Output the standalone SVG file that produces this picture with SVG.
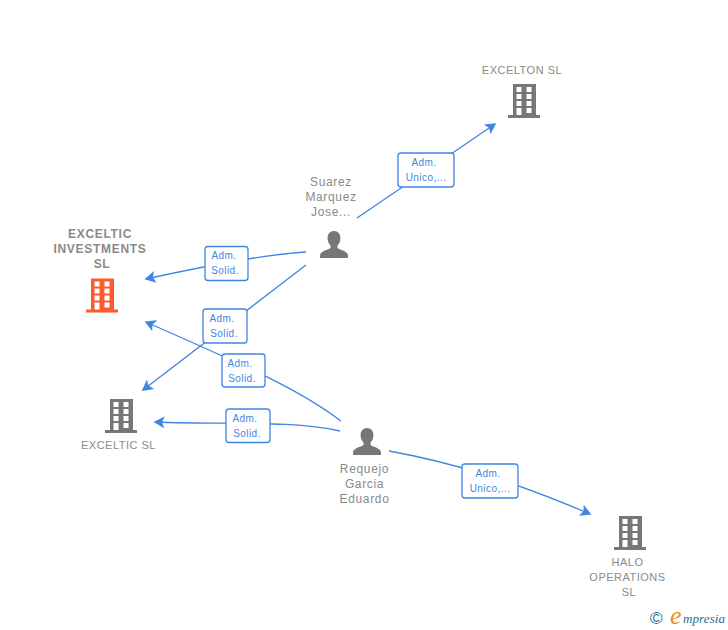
<svg xmlns="http://www.w3.org/2000/svg" width="728" height="630" viewBox="0 0 728 630">
<style>
text{font-family:"Liberation Sans",Arial,sans-serif}
.n{font-size:11px;fill:#8a8a8a;text-anchor:middle;letter-spacing:.5px}
.p{font-size:12px;letter-spacing:.65px}
.b{font-weight:bold;font-size:12px;letter-spacing:.7px}
.e{fill:none;stroke:#3f85e2;stroke-width:1.3}
.lb{fill:#fff;stroke:#3f85e2;stroke-width:1.3}
.lt{font-size:10px;fill:#3f85e2;text-anchor:middle;letter-spacing:.45px}
.w{fill:#fff}
</style>
<defs>
<marker id="a" markerUnits="userSpaceOnUse" markerWidth="14" markerHeight="14" refX="9.500" refY="6" orient="auto" viewBox="0 0 14 12">
<path d="M0 0L11 6L0 12L2.500 6Z" fill="#3f85e2"/>
</marker>
<g id="bld">
<path d="M5 0H28V31H32V34H0V31H5Z"/>
<path class="w" d="M8.500 3h5v5h-5zM18.500 3h5v5h-5zM8.500 10h5v5h-5zM18.500 10h5v5h-5zM8.500 17h5v5h-5zM18.500 17h5v5h-5zM8.500 24h5v7h-5zM18.500 24h5v5h-5z"/>
</g>
<path id="psn" d="M14 0C10 0 7.600 3 7.600 7C7.600 10 8.600 12.500 10.500 14.500L10.500 17C8 19 0 20 0 24.500V27H28V24.500C28 20 20 19 17.500 17V14.500C19.400 12.500 20.400 10 20.400 7C20.400 3 18 0 14 0Z"/>
</defs>
<rect width="728" height="630" fill="#fff"/>
<g id="connectors">
<path class="e" marker-end="url(#a)" d="M357 218L495 124"/>
<path class="e" marker-end="url(#a)" d="M306 252C270 254 210 265 146 279"/>
<path class="e" marker-end="url(#a)" d="M306 265L143 390"/>
<path class="e" marker-end="url(#a)" d="M341 421C300 390 255 370 146 322"/>
<path class="e" marker-end="url(#a)" d="M340 431C290 420 230 425 155 422"/>
<path class="e" marker-end="url(#a)" d="M389 451C450 462 510 480 590 514"/>
</g>
<g id="label-1"><rect class="lb" x="398" y="153" width="56" height="34" rx="3"/><text class="lt" x="424" y="166">Adm.</text><text class="lt" x="426" y="181">Unico,...</text></g>
<g id="label-2"><rect class="lb" x="205" y="246.500" width="43" height="34" rx="3"/><text class="lt" x="224" y="259">Adm.</text><text class="lt" x="225" y="274">Solid.</text></g>
<g id="label-3"><rect class="lb" x="203" y="309" width="44" height="34" rx="3"/><text class="lt" x="222" y="322">Adm.</text><text class="lt" x="224" y="337">Solid.</text></g>
<g id="label-4"><rect class="lb" x="222" y="354" width="43" height="33" rx="3"/><text class="lt" x="240" y="367">Adm.</text><text class="lt" x="242" y="382">Solid.</text></g>
<g id="label-5"><rect class="lb" x="226" y="409" width="44" height="33.500" rx="3"/><text class="lt" x="245" y="422">Adm.</text><text class="lt" x="247" y="437">Solid.</text></g>
<g id="label-6"><rect class="lb" x="462" y="464" width="56" height="34" rx="3"/><text class="lt" x="488" y="477">Adm.</text><text class="lt" x="490" y="492">Unico,...</text></g>
<g id="node-excelton"><text class="n" x="522" y="74">EXCELTON SL</text><use href="#bld" x="508" y="84" fill="#777"/></g>
<g id="node-investments"><text class="n b" x="100" y="238">EXCELTIC</text><text class="n b" x="100" y="253">INVESTMENTS</text><text class="n b" x="102" y="268">SL</text><use href="#bld" x="86" y="278.500" fill="#ff5a2d"/></g>
<g id="node-exceltic"><use href="#bld" x="105" y="399" fill="#777"/><text class="n" x="118.500" y="449">EXCELTIC SL</text></g>
<g id="node-suarez"><text class="n p" x="331" y="186">Suarez</text><text class="n p" x="331" y="201">Marquez</text><text class="n p" x="331" y="216">Jose...</text><use href="#psn" x="320" y="231" fill="#777"/></g>
<g id="node-requejo"><use href="#psn" x="353" y="428" fill="#777"/><text class="n p" x="364.500" y="473">Requejo</text><text class="n p" x="364.500" y="488">Garcia</text><text class="n p" x="364.500" y="503">Eduardo</text></g>
<g id="node-halo"><use href="#bld" x="614" y="516" fill="#777"/><text class="n" x="627.500" y="566">HALO</text><text class="n" x="627.500" y="581">OPERATIONS</text><text class="n" x="629" y="596">SL</text></g>
<g id="logo"><text x="650" y="624" style="font-size:17px;fill:#1f6f8b">©</text><text x="670" y="624" style="font-family:'Liberation Serif',serif;font-style:italic;font-size:26px;fill:#f28a1e">e</text><text x="683" y="623" style="font-family:'Liberation Serif',serif;font-style:italic;font-size:13px;fill:#1f6f8b;letter-spacing:.1px">mpresia</text></g>
</svg>
